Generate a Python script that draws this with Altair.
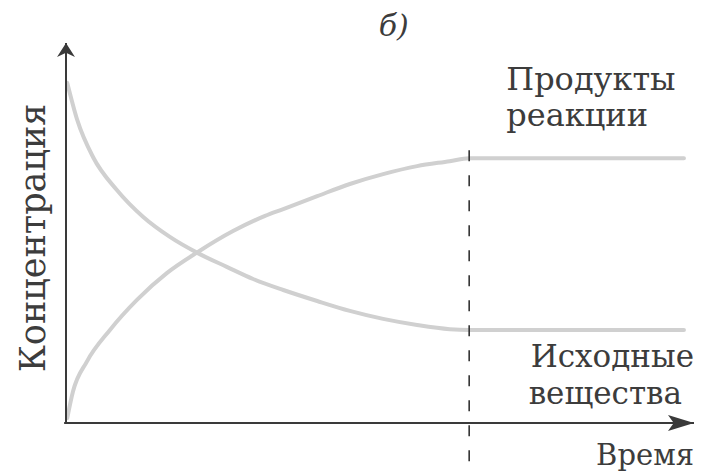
import altair as alt
import pandas as pd

# Curves (time units 0..10, concentration units 0..10)
t_reactants = [0.02, 0.18, 0.43, 0.81, 1.23, 1.66, 2.10, 2.56, 2.98, 3.46, 4.00, 4.52, 5.05, 5.59, 6.11, 6.42, 9.84]
c_reactants = [8.95, 7.97, 7.00, 6.13, 5.42, 4.89, 4.47, 4.11, 3.79, 3.50, 3.21, 2.95, 2.74, 2.58, 2.47, 2.45, 2.45]

t_products = [0.02, 0.11, 0.33, 0.70, 1.13, 1.61, 2.10, 2.66, 3.17, 3.46, 4.00, 4.52, 5.05, 5.59, 6.11, 6.42, 9.84]
c_products = [0.13, 0.82, 1.61, 2.45, 3.24, 3.95, 4.50, 5.05, 5.45, 5.63, 5.97, 6.29, 6.55, 6.76, 6.89, 6.97, 6.97]

t_equilibrium = 6.42
dash_top = 7.18
dash_bottom = -1.34

# Labels
label_products = ["Продукты", "реакции"]
label_reactants = ["Исходные", "вещества"]
label_time = "Время"
label_conc = "Концентрация"
label_panel = "б)"

curves = pd.DataFrame(
    [{"t": t, "c": c, "s": "reactants"} for t, c in zip(t_reactants, c_reactants)]
    + [{"t": t, "c": c, "s": "products"} for t, c in zip(t_products, c_products)]
)

xs = alt.Scale(domain=[0, 10], nice=False, zero=False)
ys = alt.Scale(domain=[0, 10], nice=False, zero=False)
X = alt.X("t:Q", scale=xs, axis=None)
Y = alt.Y("c:Q", scale=ys, axis=None)

AX = "#3a3a3a"
TXT = "#3c3c3c"
FONT = "DejaVu Serif"

lines = alt.Chart(curves).mark_line(
    interpolate="monotone", strokeWidth=4, color="#d0d0d0", strokeCap="round"
).encode(x=X, y=Y, detail="s:N")

vaxis = alt.Chart(pd.DataFrame({"t": [0], "c": [0], "c2": [10]})).mark_rule(
    color=AX, strokeWidth=2
).encode(x=X, y=Y, y2="c2:Q")

haxis = alt.Chart(pd.DataFrame({"t": [-0.03], "t2": [10], "c": [0]})).mark_rule(
    color=AX, strokeWidth=2
).encode(x=X, x2="t2:Q", y=Y)

varrow = alt.Chart(pd.DataFrame({"t": [0], "c": [10]})).mark_point(
    shape="M0,0L0.64,1L0,0.7L-0.64,1Z", size=784, filled=True, color=AX, opacity=1
).encode(x=X, y=Y)

harrow = alt.Chart(pd.DataFrame({"t": [10], "c": [0]})).mark_point(
    shape="M0,0L-1,-0.31L-0.78,0L-1,0.31Z", size=2704, filled=True, color=AX, opacity=1
).encode(x=X, y=Y)

dashed = alt.Chart(pd.DataFrame({"t": [t_equilibrium], "c": [dash_top], "c2": [dash_bottom]})).mark_rule(
    color="#333333", strokeWidth=1.6, strokeDash=[11, 14]
).encode(x=X, y=Y, y2="c2:Q")

left_labels = pd.DataFrame({
    "t": [7.01, 7.01],
    "c": [8.76, 7.82],
    "label": label_products,
})
texts_left = alt.Chart(left_labels).mark_text(
    align="left", baseline="alphabetic", font=FONT, fontSize=32, color=TXT
).encode(x=X, y=Y, text="label:N")

right_labels = pd.DataFrame({
    "t": [10.0, 9.81],
    "c": [1.47, 0.50],
    "label": label_reactants,
})
texts_right = alt.Chart(right_labels).mark_text(
    align="right", baseline="alphabetic", font=FONT, fontSize=31, color=TXT
).encode(x=X, y=Y, text="label:N")

time_text = alt.Chart(pd.DataFrame({"t": [10], "c": [-1.1], "label": [label_time]})).mark_text(
    align="right", baseline="alphabetic", font=FONT, fontSize=29, color=TXT
).encode(x=X, y=Y, text="label:N")

conc_text = alt.Chart(pd.DataFrame({"t": [-0.33], "c": [4.87], "label": [label_conc]})).mark_text(
    align="center", baseline="alphabetic", angle=270, font=FONT, fontSize=35, color=TXT
).encode(x=X, y=Y, text="label:N")

panel_text = alt.Chart(pd.DataFrame({"t": [4.98], "c": [10.18], "label": [label_panel]})).mark_text(
    align="left", baseline="alphabetic", font=FONT, fontStyle="italic", fontSize=30, color=TXT
).encode(x=X, y=Y, text="label:N")

chart = alt.layer(
    lines, dashed, vaxis, haxis, varrow, harrow, texts_left, texts_right, time_text, conc_text, panel_text
).properties(
    width=628,
    height=380,
    padding={"left": 58, "top": 35, "right": 6, "bottom": 51},
    autosize=alt.AutoSizeParams(type="none"),
    background="white",
).configure_view(stroke=None)

chart.save("out.html", embed_options={"renderer": "svg", "actions": False})
